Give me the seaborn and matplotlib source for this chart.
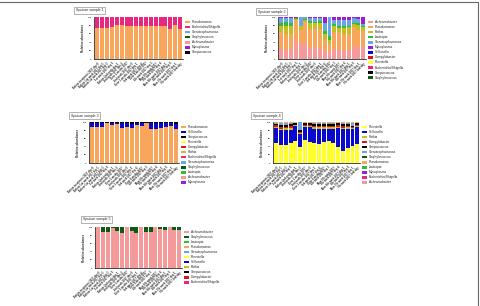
import numpy as np
import pandas as pd
import matplotlib
matplotlib.use('Agg')
import matplotlib.pyplot as plt
from matplotlib.patches import Patch, Rectangle
import seaborn as sns

sns.set_style('white')
plt.rcParams['font.family'] = ['Liberation Sans', 'DejaVu Sans']

# genus colours (GraphPad style)
colours = {'Pseudomonas': '#F8A65C', 'Escherichia/Shigella': '#E8287E',
           'Stenotrophomonas': '#6CA6E0', 'Staphylococcus': '#0F5A12',
           'Achromobacter': '#F49A9A', 'Mycoplasma': '#9A1ED6',
           'Streptococcus': '#000000', 'Rothia': '#C4BE22',
           'Lautropia': '#2EC02E', 'Veillonella': '#0A0ACF',
           'Campylobacter': '#E01414', 'Prevotella': '#FFFF2E'}

samples = ['Before treatment 2017 day 0', 'Before 1st week 2017 day 1',
           'Before 1st week 2017 day 3', '1st week 2017 day 5', 'Before 2nd week day 1',
           '2nd week 2017 day 2', 'Over 2 weeks 2017', '2nd week 2017 day 6',
           'Over 3 weeks 2017 day 1', '3rd week 2017 day 4', 'Over 4 weeks 2017',
           '4th week 2017 day 3', 'Mon 5th week 2017', '5th week 2017 day 4',
           'Mon 6th week 2017 day 1', '6th week 2017 day 5', 'Mon 7th week 2017 day 1',
           '7th week 2017 2nd day']

# sputum sample 1
s1_order = ['Pseudomonas', 'Escherichia/Shigella', 'Stenotrophomonas',
            'Staphylococcus', 'Achromobacter', 'Mycoplasma', 'Streptococcus']
s1_pseudomonas = [75, 75, 75, 76, 81, 81, 80, 78, 79, 78, 78, 78, 80, 79, 78, 72, 81, 72]
s1_escherichia = [25, 25, 25, 24, 19, 19, 20, 22, 21, 22, 22, 22, 20, 21, 22, 28, 19, 28]

# sputum sample 2
s2_order = ['Achromobacter', 'Pseudomonas', 'Rothia', 'Lautropia', 'Stenotrophomonas',
            'Mycoplasma', 'Veillonella', 'Campylobacter', 'Prevotella',
            'Escherichia/Shigella', 'Streptococcus', 'Staphylococcus']
s2_achromobacter = [24, 22, 24, 44, 35, 38, 26, 28, 27, 18, 16, 24, 22, 20, 22, 30, 28, 28]
s2_pseudomonas = [40, 38, 36, 48, 35, 50, 45, 44, 45, 28, 20, 40, 42, 40, 38, 46, 42, 40]
s2_rothia = [16, 20, 20, 3, 8, 5, 15, 14, 13, 14, 10, 14, 10, 14, 16, 8, 12, 8]
s2_lautropia = [6, 8, 5, 2, 2, 3, 4, 3, 5, 6, 8, 6, 4, 4, 4, 3, 4, 4]
s2_stenotrophomonas = [12, 10, 13, 2, 20, 4, 8, 9, 8, 20, 46, 10, 14, 14, 12, 11, 10, 4]
s2_mycoplasma = [2, 2, 2, 1, 0, 0, 2, 2, 2, 14, 0, 6, 8, 8, 8, 2, 4, 16]

# sputum sample 3
s3_order = ['Pseudomonas', 'Veillonella', 'Streptococcus', 'Prevotella', 'Campylobacter',
            'Rothia', 'Escherichia/Shigella', 'Stenotrophomonas', 'Staphylococcus',
            'Lautropia', 'Achromobacter', 'Mycoplasma']
s3_pseudomonas = [88, 88, 88, 99, 93, 95, 86, 87, 85, 92, 90, 98, 84, 84, 86, 88, 90, 84]
s3_veillonella = [10, 10, 10, 0, 4, 4, 11, 10, 11, 6, 7, 1, 13, 13, 11, 10, 8, 12]
s3_streptococcus = [2, 2, 2, 1, 3, 1, 3, 3, 4, 2, 3, 1, 3, 3, 3, 2, 2, 4]

# sputum sample 4
s4_order = ['Prevotella', 'Veillonella', 'Rothia', 'Campylobacter', 'Streptococcus',
            'Stenotrophomonas', 'Staphylococcus', 'Pseudomonas', 'Lautropia',
            'Mycoplasma', 'Escherichia/Shigella', 'Achromobacter']
s4_prevotella = [50, 43, 45, 48, 54, 40, 56, 52, 48, 47, 51, 53, 50, 40, 30, 36, 41, 47]
s4_veillonella = [36, 37, 35, 32, 36, 32, 32, 35, 34, 35, 31, 30, 34, 46, 52, 48, 41, 41]
s4_rothia = [3, 4, 5, 6, 2, 2, 3, 4, 5, 5, 5, 4, 4, 3, 4, 4, 3, 3]
s4_campylobacter = [3, 4, 4, 4, 1, 2, 2, 2, 3, 3, 3, 3, 3, 3, 4, 3, 2, 2]
s4_streptococcus = [4, 6, 5, 6, 5, 4, 5, 4, 6, 5, 6, 6, 5, 5, 6, 5, 4, 4]
s4_stenotrophomonas = [2, 3, 3, 2, 1, 20, 1, 1, 2, 3, 2, 2, 2, 1, 2, 2, 8, 2]
s4_staphylococcus = [1, 1, 1, 1, 0, 0, 0, 1, 1, 1, 1, 1, 1, 1, 1, 1, 0, 0]
s4_pseudomonas = [1, 2, 2, 1, 1, 0, 1, 1, 1, 1, 1, 1, 1, 1, 1, 1, 1, 1]

# sputum sample 5
s5_order = ['Achromobacter', 'Staphylococcus', 'Lautropia', 'Pseudomonas',
            'Stenotrophomonas', 'Prevotella', 'Veillonella', 'Rothia',
            'Streptococcus', 'Campylobacter', 'Escherichia/Shigella']
s5_achromobacter = [99, 88, 88, 98, 90, 85, 99, 90, 86, 99, 89, 89, 99, 95, 94, 99, 94, 93]
s5_staphylococcus = [1, 12, 12, 2, 10, 15, 1, 10, 14, 1, 11, 11, 1, 5, 6, 1, 6, 7]

panels = [
    ('Sputum sample 1', s1_order, {'Pseudomonas': s1_pseudomonas,
                                   'Escherichia/Shigella': s1_escherichia}),
    ('Sputum sample 2', s2_order, {'Achromobacter': s2_achromobacter,
                                   'Pseudomonas': s2_pseudomonas, 'Rothia': s2_rothia,
                                   'Lautropia': s2_lautropia,
                                   'Stenotrophomonas': s2_stenotrophomonas,
                                   'Mycoplasma': s2_mycoplasma}),
    ('Sputum sample 3', s3_order, {'Pseudomonas': s3_pseudomonas,
                                   'Veillonella': s3_veillonella,
                                   'Streptococcus': s3_streptococcus}),
    ('Sputum sample 4', s4_order, {'Prevotella': s4_prevotella,
                                   'Veillonella': s4_veillonella, 'Rothia': s4_rothia,
                                   'Campylobacter': s4_campylobacter,
                                   'Streptococcus': s4_streptococcus,
                                   'Stenotrophomonas': s4_stenotrophomonas,
                                   'Staphylococcus': s4_staphylococcus,
                                   'Pseudomonas': s4_pseudomonas}),
    ('Sputum sample 5', s5_order, {'Achromobacter': s5_achromobacter,
                                   'Staphylococcus': s5_staphylococcus}),
]

# axes rectangles and title box anchors, figure fractions
ax_pos = [(0.1954, 0.807, 0.185, 0.137), (0.578, 0.807, 0.183, 0.137),
          (0.185, 0.467, 0.187, 0.134), (0.5676, 0.467, 0.181, 0.134),
          (0.1975, 0.124, 0.181, 0.134)]
title_pos = [(0.158, 0.966), (0.536, 0.961), (0.1476, 0.6225), (0.526, 0.6225),
             (0.1726, 0.2827)]

fig = plt.figure(figsize=(4.81, 3.06), dpi=100)

for (title, order, data), pos, tpos in zip(panels, ax_pos, title_pos):
    ax = fig.add_axes(pos)
    df = pd.DataFrame({g: data.get(g, [0] * len(samples)) for g in order}, index=samples)
    cum = df.cumsum(axis=1)
    # draw cumulative totals from top of the stack downwards
    for g in order[::-1]:
        if df[g].sum() == 0:
            continue
        sns.barplot(x=samples, y=cum[g].values, color=colours[g], saturation=1,
                    width=0.82, linewidth=0, ax=ax)
    ax.set_ylim(0, 100)
    ax.set_xlim(-0.7, len(samples) - 0.4)
    ax.set_yticks([0, 20, 40, 60, 80, 100])
    ax.set_ylabel('Relative abundance', fontsize=2.2, fontweight='bold', labelpad=1.5)
    ax.set_xticks(range(len(samples)))
    ax.set_xticklabels(samples, rotation=45, ha='right', rotation_mode='anchor',
                       fontsize=1.9, fontweight='bold')
    ax.tick_params(axis='both', length=1, width=0.4, pad=0.8)
    ax.tick_params(axis='y', labelsize=1.7)
    for lbl in ax.get_yticklabels():
        lbl.set_fontweight('bold')
    sns.despine(ax=ax)
    for sp in ['left', 'bottom']:
        ax.spines[sp].set_linewidth(0.5)
        ax.spines[sp].set_color('black')

    handles = [Patch(facecolor=colours[g], edgecolor='none', label=g) for g in order]
    ax.legend(handles=handles, loc='upper left', bbox_to_anchor=(1.0, 0.97),
              frameon=False, fontsize=2.3, handlelength=1.5, handleheight=0.8,
              handletextpad=0.6, labelspacing=0.32, borderaxespad=0.2)

    fig.text(tpos[0], tpos[1], title, fontsize=2.5, ha='left', va='center',
             bbox=dict(boxstyle='square,pad=0.45', fc='white', ec='#777777', lw=0.4))

# thin frame round the figure
fig.add_artist(Rectangle((-0.01, -0.01), 478 / 481 + 0.01, 1 - 1.5 / 306 + 0.01,
                         transform=fig.transFigure, fill=False, ec='#666666', lw=0.8))

fig.savefig('out.png', dpi=100)
